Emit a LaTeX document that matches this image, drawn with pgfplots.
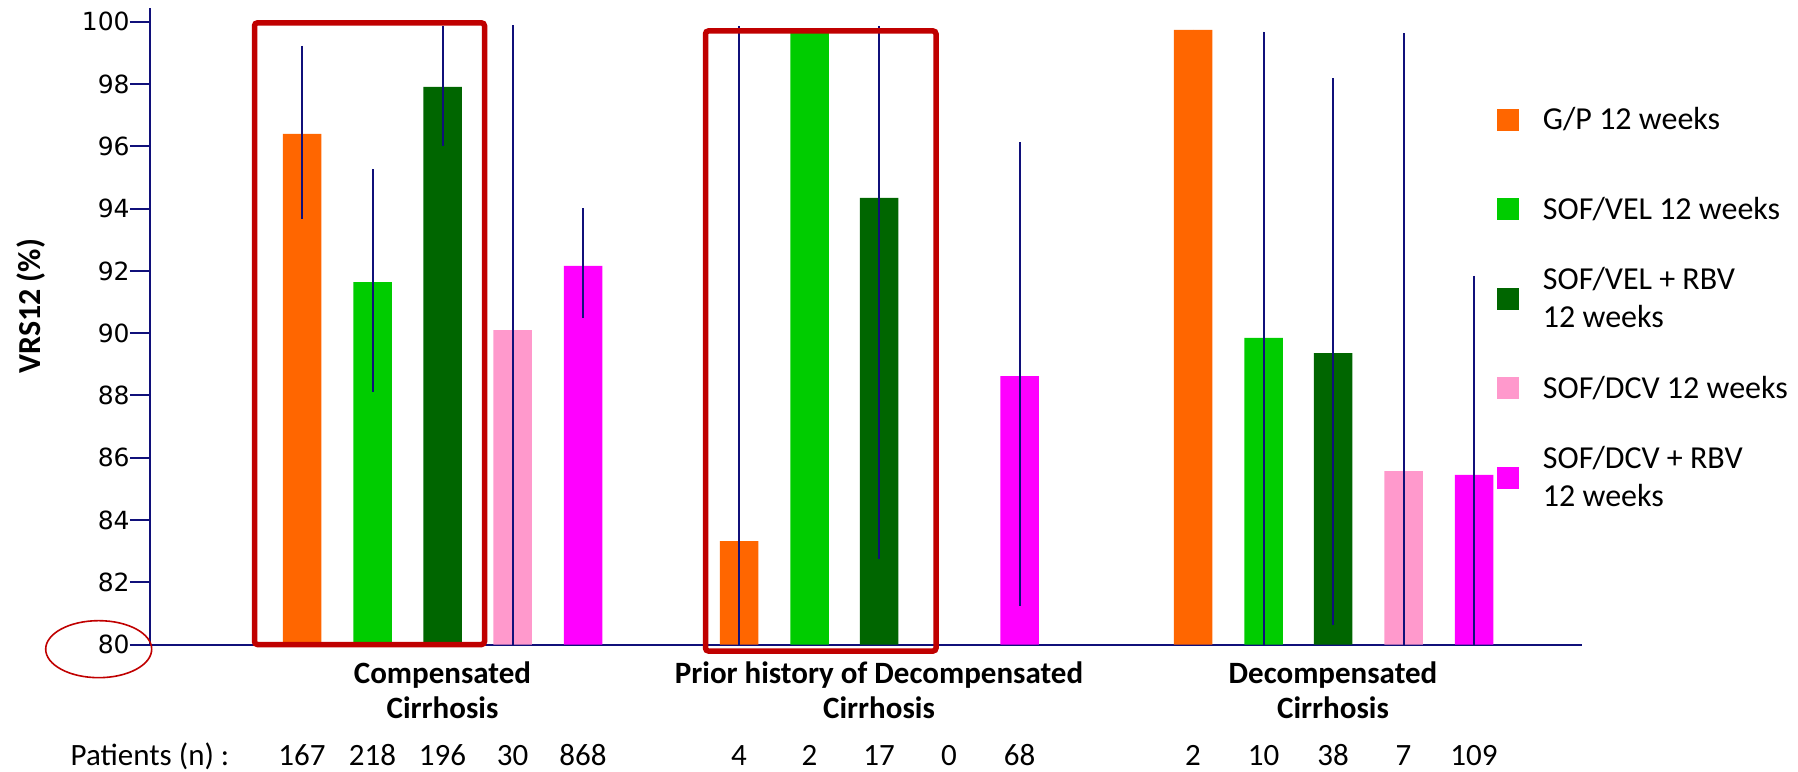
\documentclass[border=0pt]{standalone}
\usepackage{fontspec}
\setmainfont{Carlito}
\newfontfamily\dejavu{DejaVu Sans}
\usepackage{pgfplots}
\usepackage{pgfplotstable}
\pgfplotsset{compat=1.18}
\definecolor{cOr}{HTML}{FF6600}
\definecolor{cGr}{HTML}{00CC00}
\definecolor{cDg}{HTML}{006600}
\definecolor{cPk}{HTML}{FF99CC}
\definecolor{cMg}{HTML}{FF00FF}
\definecolor{cRd}{HTML}{C00000}
\definecolor{cNv}{HTML}{10107A}

% x = bar centre (pixel position), y = SVR12 (%), ep/em = error up/down
\pgfplotstableread{
x y ep em
302 96.40 2.84 2.73
739 83.32 16.55 3.32
1193 99.74 0 0
}\tGP
\pgfplotstableread{
x y ep em
372.5 91.64 3.64 3.52
809.5 99.69 0 0
1263.5 89.85 9.84 9.85
}\tSV
\pgfplotstableread{
x y ep em
442.5 97.91 1.97 1.89
879 94.35 5.52 11.60
1333 89.36 8.83 8.74
}\tSVR
\pgfplotstableread{
x y ep em
512.5 90.10 9.80 10.10
1403.5 85.57 14.08 5.57
}\tSD
\pgfplotstableread{
x y ep em
583 92.16 1.85 1.68
1019.5 88.62 7.51 7.39
1474 85.45 6.40 5.45
}\tSDR

\begin{document}
\begin{tikzpicture}
\useasboundingbox (-75pt,-63.25pt) rectangle (824pt,322.25pt);
\begin{axis}[
  at={(0pt,0pt)}, anchor=south west,
  x=0.5pt, y=15.565pt,
  xmin=150, xmax=1582, ymin=80, ymax=100.45,
  axis x line=bottom, axis y line=left,
  axis line style={-, draw=cNv, line width=1pt},
  clip mode=individual,
  ytick={80,82,...,100},
  tick align=outside, major tick length=10pt,
  ytick style={draw=cNv, line width=1pt},
  yticklabel style={font=\dejavu\fontsize{12.5}{15}\selectfont, anchor=east, inner sep=0pt},
  /pgf/number format/assume math mode=true,
  xtick={442.5,879,1333},
  xticklabels={Compensated\\Cirrhosis, Prior history of Decompensated\\Cirrhosis, Decompensated\\Cirrhosis},
  xticklabel style={font=\bfseries\fontsize{15.5}{17.2}\selectfont, align=center, anchor=north, inner sep=0pt, yshift=1.45pt},
  xtick style={draw=none},
  extra x ticks={150,302,372.5,442.5,512.5,583,739,809.5,879,949,1019.5,1193,1263.5,1333,1403.5,1474},
  extra x tick labels={Patients (n) :,167,218,196,30,868,4,2,17,0,68,2,10,38,7,109},
  extra x tick style={major tick length=0pt, xticklabel style={font=\fontsize{15.5}{19}\selectfont, anchor=base, yshift=-61.7pt}},
  ylabel={VRS12 (\%)},
  every axis y label/.style={at={(axis description cs:-0.0834,0.5315)}, rotate=90, anchor=center, font=\bfseries\fontsize{16}{19}\selectfont},
  error bars/y dir=both, error bars/y explicit,
  error bars/error mark=none,
  error bars/error bar style={draw=cNv, line width=1pt},
  legend cell align=left,
  legend image code/.code={\draw[#1, draw=none] (0pt,-5.5pt) rectangle (11pt,5.5pt);},
  legend style={at={(0.9406,0.8836)}, anchor=north west, draw=none, fill=none,
    inner sep=0pt, outer sep=0pt, row sep=6.75pt, column sep=12pt,
    font=\fontsize{16}{19}\selectfont,
    nodes={minimum height=38pt, align=left, inner sep=0pt}},
]
\addplot[ybar, bar width=19.25pt, fill=cOr, draw=none] table[x=x,y=y,y error plus=ep,y error minus=em]{\tGP};
\addlegendentry{G/P 12 weeks}
\addplot[ybar, bar width=19.25pt, fill=cGr, draw=none] table[x=x,y=y,y error plus=ep,y error minus=em]{\tSV};
\addlegendentry{SOF/VEL 12 weeks}
\addplot[ybar, bar width=19.25pt, fill=cDg, draw=none] table[x=x,y=y,y error plus=ep,y error minus=em]{\tSVR};
\addlegendentry{SOF/VEL + RBV\\12 weeks}
\addplot[ybar, bar width=19.25pt, fill=cPk, draw=none] table[x=x,y=y,y error plus=ep,y error minus=em]{\tSD};
\addlegendentry{SOF/DCV 12 weeks}
\addplot[ybar, bar width=19.25pt, fill=cMg, draw=none] table[x=x,y=y,y error plus=ep,y error minus=em]{\tSDR};
\addlegendentry{SOF/DCV + RBV\\12 weeks}
\draw[cRd, line width=2.75pt, rounded corners=1.5pt] (axis cs:254.5,80) rectangle (axis cs:484.5,99.97);
\draw[cRd, line width=2.75pt, rounded corners=1.5pt] (axis cs:705.5,79.79) rectangle (axis cs:936,99.71);
\draw[cRd, line width=0.8pt] (axis cs:98.7,79.85) ellipse [x radius=26.5pt, y radius=14.25pt];
\end{axis}
\end{tikzpicture}
\end{document}
